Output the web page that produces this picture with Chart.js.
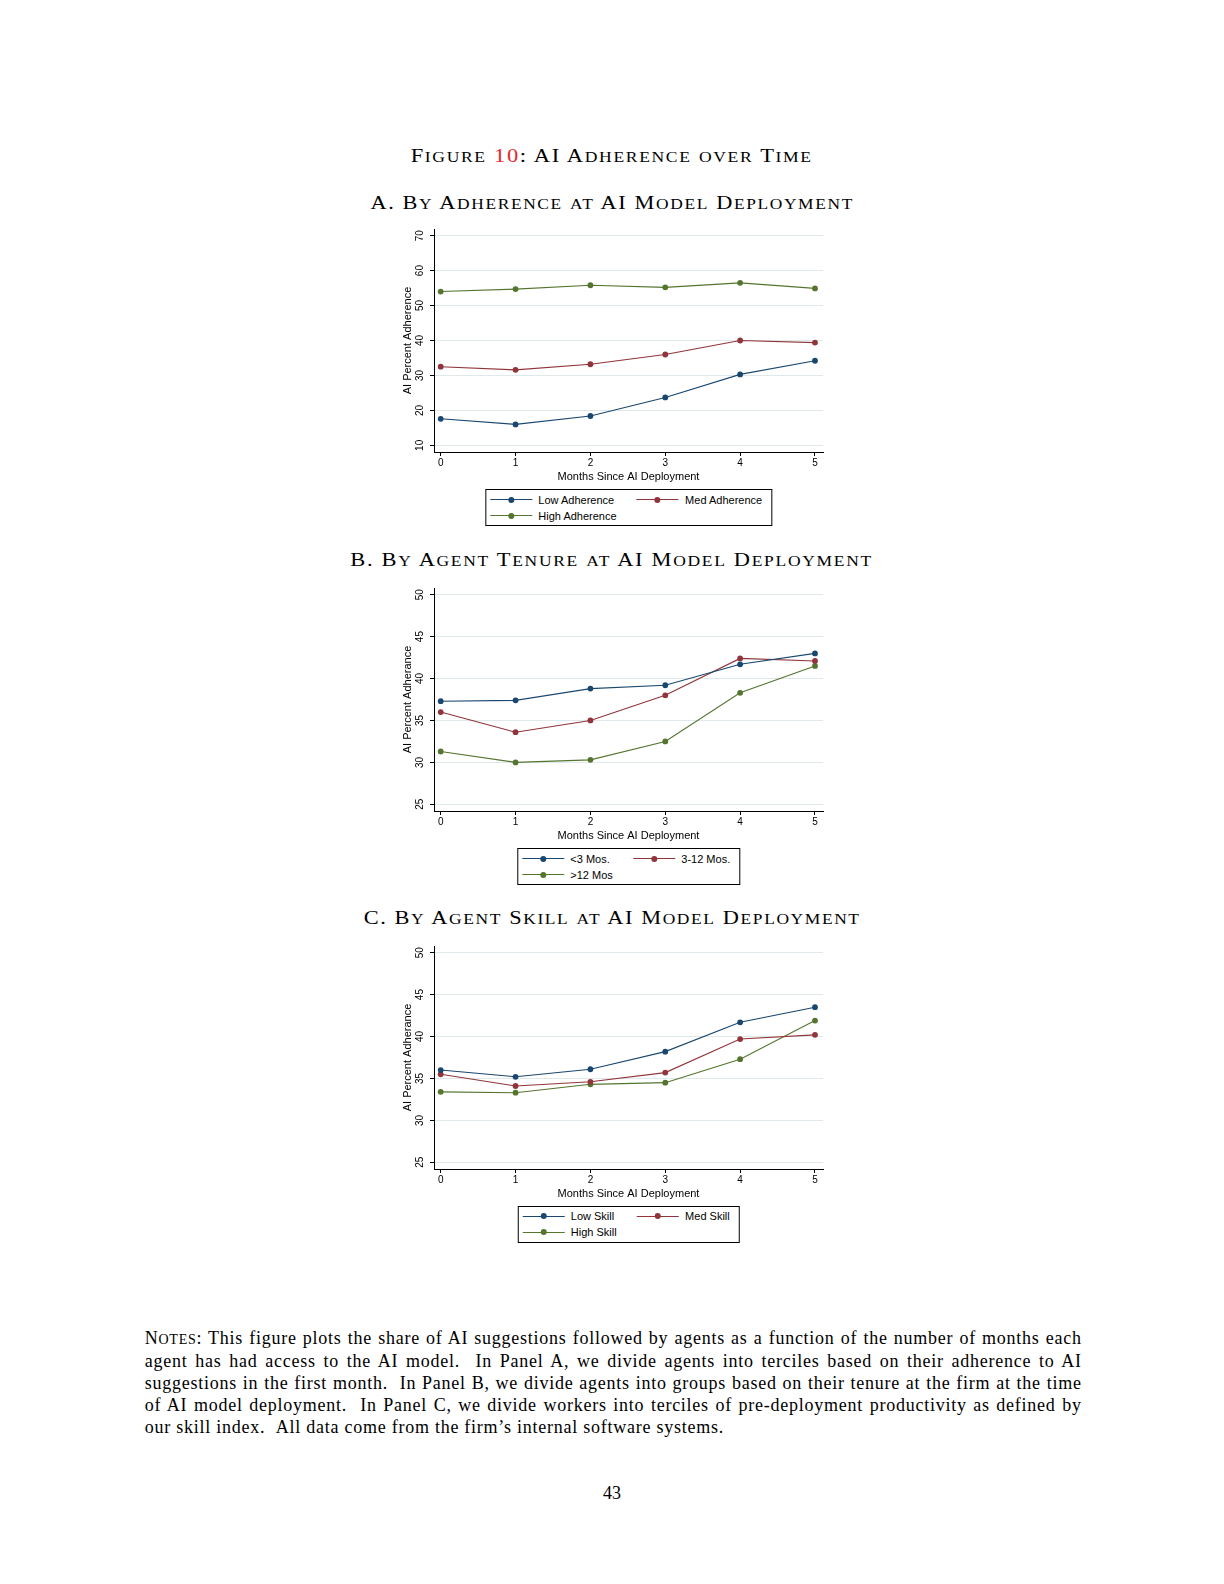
<!DOCTYPE html>
<html><head><meta charset="utf-8">
<script src="https://cdn.jsdelivr.net/npm/chart.js@4.4.1/dist/chart.umd.min.js"></script>
<style>
html,body{margin:0;padding:0;background:#fff;}
body{width:1224px;height:1584px;position:relative;overflow:hidden;}
.t{position:absolute;left:0;width:1224px;text-align:center;font-family:"Liberation Serif","Times New Roman",serif;color:#000;white-space:nowrap;font-size:18px;line-height:18px;}
.t .in{display:inline-block;transform-origin:center;}
.smc{font-size:0.78em;text-transform:uppercase;}
.red{color:#e8262b;}
.cv{position:absolute;}
.leg{position:absolute;border:1px solid #000;background:#fff;display:grid;grid-template-columns:auto auto;column-gap:20px;padding:1.5px 9px 1.5px 4px;font-family:"Liberation Sans",Arial,sans-serif;font-size:11px;color:#000;transform:translateX(-50%);}
.li{display:flex;align-items:center;height:16px;white-space:nowrap;}
.samp{position:relative;width:42px;height:16px;margin-right:6.5px;flex:none;}
.samp:before{content:'';position:absolute;left:0;right:0;top:7.5px;height:1px;background:var(--c);}
.samp i{position:absolute;left:18px;top:5px;width:6px;height:6px;border-radius:50%;background:var(--c);}
.notes{position:absolute;left:144.7px;width:937px;top:1328px;font-family:"Liberation Serif","Times New Roman",serif;font-size:18px;line-height:21.9px;color:#000;letter-spacing:0.75px;}
.notes div{text-align:justify;text-align-last:justify;white-space:nowrap;}
.notes div.last{text-align-last:left;}
</style>
</head><body>

<div class="t" style="top:146.5px" data-w="402"><span class="in"><span class="sc">Figure <span class="red">10</span>: AI Adherence over Time</span></span></div>
<div class="t" style="top:194px" data-w="483.5"><span class="in sc">A. By Adherence at AI Model Deployment</span></div>
<div class="t" style="top:551.4px" data-w="522.5"><span class="in sc">B. By Agent Tenure at AI Model Deployment</span></div>
<div class="t" style="top:908.5px" data-w="497"><span class="in sc">C. By Agent Skill at AI Model Deployment</span></div>

<canvas id="cA" class="cv" width="470" height="275"></canvas>
<canvas id="cB" class="cv" width="470" height="275"></canvas>
<canvas id="cC" class="cv" width="470" height="275"></canvas>
<div id="legA" class="leg"></div>
<div id="legB" class="leg"></div>
<div id="legC" class="leg"></div>

<div class="notes">
<div><span class="sc">Notes</span>: This figure plots the share of AI suggestions followed by agents as a function of the number of months each</div>
<div>agent has had access to the AI model. &nbsp;In Panel A, we divide agents into terciles based on their adherence to AI</div>
<div>suggestions in the first month. &nbsp;In Panel B, we divide agents into groups based on their tenure at the firm at the time</div>
<div>of AI model deployment. &nbsp;In Panel C, we divide workers into terciles of pre-deployment productivity as defined by</div>
<div class="last">our skill index. &nbsp;All data come from the firm’s internal software systems.</div>
</div>

<div class="t" style="top:1484px"><span class="in">43</span></div>

<script>
// ---------------- DATA ----------------
const months = [0, 1, 2, 3, 4, 5];
const xTicks = [0, 1, 2, 3, 4, 5];
const xTitle = "Months Since AI Deployment";

// Panel A: by adherence at deployment
const panelAYTitle = "AI Percent Adherence";
const panelAYTicks = [10, 20, 30, 40, 50, 60, 70];
const panelANames = ["Low Adherence", "Med Adherence", "High Adherence"];
const lowAdherence  = [17.6, 16.0, 18.4, 23.7, 30.3, 34.2];
const medAdherence  = [32.5, 31.6, 33.2, 36.0, 40.0, 39.4];
const highAdherence = [54.0, 54.7, 55.8, 55.2, 56.5, 54.9];

// Panel B: by agent tenure
const panelBYTitle = "AI Percent Adherance";
const panelBYTicks = [25, 30, 35, 40, 45, 50];
const panelBNames = ["<3 Mos.", "3-12 Mos.", ">12 Mos"];
const tenureUnder3 = [37.3, 37.4, 38.8, 39.2, 41.7, 43.0];
const tenure3to12  = [36.0, 33.6, 35.0, 38.0, 42.4, 42.1];
const tenureOver12 = [31.3, 30.0, 30.3, 32.5, 38.3, 41.5];

// Panel C: by agent skill
const panelCYTitle = "AI Percent Adherance";
const panelCYTicks = [25, 30, 35, 40, 45, 50];
const panelCNames = ["Low Skill", "Med Skill", "High Skill"];
const lowSkill  = [36.0, 35.2, 36.1, 38.2, 41.7, 43.5];
const medSkill  = [35.5, 34.1, 34.6, 35.7, 39.7, 40.2];
const highSkill = [33.4, 33.3, 34.3, 34.5, 37.3, 41.9];

// ---------------- STYLE ----------------
const COLORS = ["#1a476f", "#90353b", "#55752f"];
const SANS = '"Liberation Sans", Arial, sans-serif';
const PLOT_LEFT = 434, PLOT_RIGHT = 823, PLOT_H = 223;
const CANVAS_LEFT = 370, CANVAS_W = 470, CANVAS_H = 275;

// LaTeX-like small caps: lowercase letters -> reduced-size capitals
function smallCaps(root) {
  const walker = document.createTreeWalker(root, NodeFilter.SHOW_TEXT);
  const nodes = [];
  while (walker.nextNode()) nodes.push(walker.currentNode);
  nodes.forEach(n => {
    const parts = n.nodeValue.split(/([a-z]+)/);
    const frag = document.createDocumentFragment();
    parts.forEach(p => {
      if (!p) return;
      if (/^[a-z]+$/.test(p)) {
        const s = document.createElement('span');
        s.className = 'smc';
        s.textContent = p;
        frag.appendChild(s);
      } else frag.appendChild(document.createTextNode(p));
    });
    n.parentNode.replaceChild(frag, n);
  });
}
document.querySelectorAll('.sc').forEach(smallCaps);

// fit titles to width: partly letter-spacing, horizontal scale for the rest
document.querySelectorAll('.t[data-w]').forEach(el => {
  const inner = el.querySelector('.in');
  const target = parseFloat(el.dataset.w);
  const n = inner.textContent.length;
  let w = inner.getBoundingClientRect().width;
  const ls = Math.max(0, (target - w) * 0.35 / n);
  inner.style.letterSpacing = ls + 'px';
  w = inner.getBoundingClientRect().width;
  inner.style.transform = 'scaleX(' + (target / w) + ')';
});

const rotYLabels = {
  id: 'rotYLabels',
  afterDraw(chart) {
    const s = chart.scales.y, ctx = chart.ctx;
    ctx.save();
    ctx.font = '10px ' + SANS;
    ctx.fillStyle = '#000';
    ctx.textAlign = 'center';
    ctx.textBaseline = 'middle';
    s.ticks.forEach(t => {
      const y = s.getPixelForValue(t.value);
      ctx.save();
      ctx.translate(s.right - 13.5, y);
      ctx.rotate(-Math.PI / 2);
      ctx.fillText(String(t.value), 0, 0);
      ctx.restore();
    });
    ctx.restore();
  }
};

function makePanel(id, legId, plotTop, yMin, yMax, yTicks, yTitle, names, series) {
  const cv = document.getElementById(id);
  const cTop = plotTop - 14;
  cv.style.left = CANVAS_LEFT + 'px';
  cv.style.top = cTop + 'px';
  const datasets = series.map((vals, i) => ({
    label: names[i],
    data: months.map((m, j) => ({ x: m, y: vals[j] })),
    borderColor: COLORS[i],
    backgroundColor: COLORS[i],
    pointBackgroundColor: COLORS[i],
    pointBorderColor: COLORS[i],
    pointBorderWidth: 0,
    pointRadius: 2.9,
    borderWidth: 1.1,
    tension: 0
  }));
  new Chart(cv, {
    type: 'line',
    data: { datasets },
    options: {
      responsive: false,
      animation: false,
      events: [],
      layout: { padding: { left: 0, top: 14, right: CANVAS_LEFT + CANVAS_W - PLOT_RIGHT, bottom: 6.7 } },
      plugins: { legend: { display: false }, tooltip: { enabled: false } },
      scales: {
        x: {
          type: 'linear', min: -0.0895, max: 5.107,
          afterBuildTicks: s => { s.ticks = xTicks.map(v => ({ value: v })); },
          afterFit: s => { s.height = CANVAS_H - 6.7 - 14 - PLOT_H; },
          grid: { drawOnChartArea: false, drawTicks: true, tickLength: 4, tickColor: '#000', tickWidth: 1 },
          border: { display: true, color: '#000', width: 1 },
          ticks: { font: { family: SANS, size: 10 }, color: '#000', padding: 1.5, maxRotation: 0, minRotation: 0, autoSkip: false, callback: v => String(v) },
          title: { display: true, text: xTitle, font: { family: SANS, size: 11 }, color: '#000', padding: { top: 0, bottom: 0 } }
        },
        y: {
          type: 'linear', min: yMin, max: yMax,
          afterBuildTicks: s => { s.ticks = yTicks.map(v => ({ value: v })); },
          afterFit: s => { s.width = PLOT_LEFT - CANVAS_LEFT; },
          grid: { color: '#dfe8ea', lineWidth: 1, drawTicks: true, tickLength: 4, tickColor: '#000', tickWidth: 1 },
          border: { display: true, color: '#000', width: 1 },
          ticks: { display: false },
          title: { display: true, text: yTitle, font: { family: SANS, size: 11 }, color: '#000', padding: { top: 31.4, bottom: 0 } }
        }
      }
    },
    plugins: [rotYLabels]
  });
  // legend built from the same names/colors
  const leg = document.getElementById(legId);
  leg.style.left = ((PLOT_LEFT + PLOT_RIGHT) / 2) + 'px';
  leg.style.top = (plotTop + 260.3) + 'px';
  names.forEach((n, i) => {
    const d = document.createElement('div');
    d.className = 'li';
    const s = document.createElement('span');
    s.className = 'samp';
    s.style.setProperty('--c', COLORS[i]);
    s.appendChild(document.createElement('i'));
    const tx = document.createElement('span');
    tx.textContent = n;
    d.appendChild(s); d.appendChild(tx);
    leg.appendChild(d);
  });
}

makePanel('cA', 'legA', 229, 8.1, 71.9, panelAYTicks, panelAYTitle, panelANames, [lowAdherence, medAdherence, highAdherence]);
makePanel('cB', 'legB', 587.7, 24.2, 50.8, panelBYTicks, panelBYTitle, panelBNames, [tenureUnder3, tenure3to12, tenureOver12]);
makePanel('cC', 'legC', 945.5, 24.2, 50.8, panelCYTicks, panelCYTitle, panelCNames, [lowSkill, medSkill, highSkill]);
</script>
</body></html>
